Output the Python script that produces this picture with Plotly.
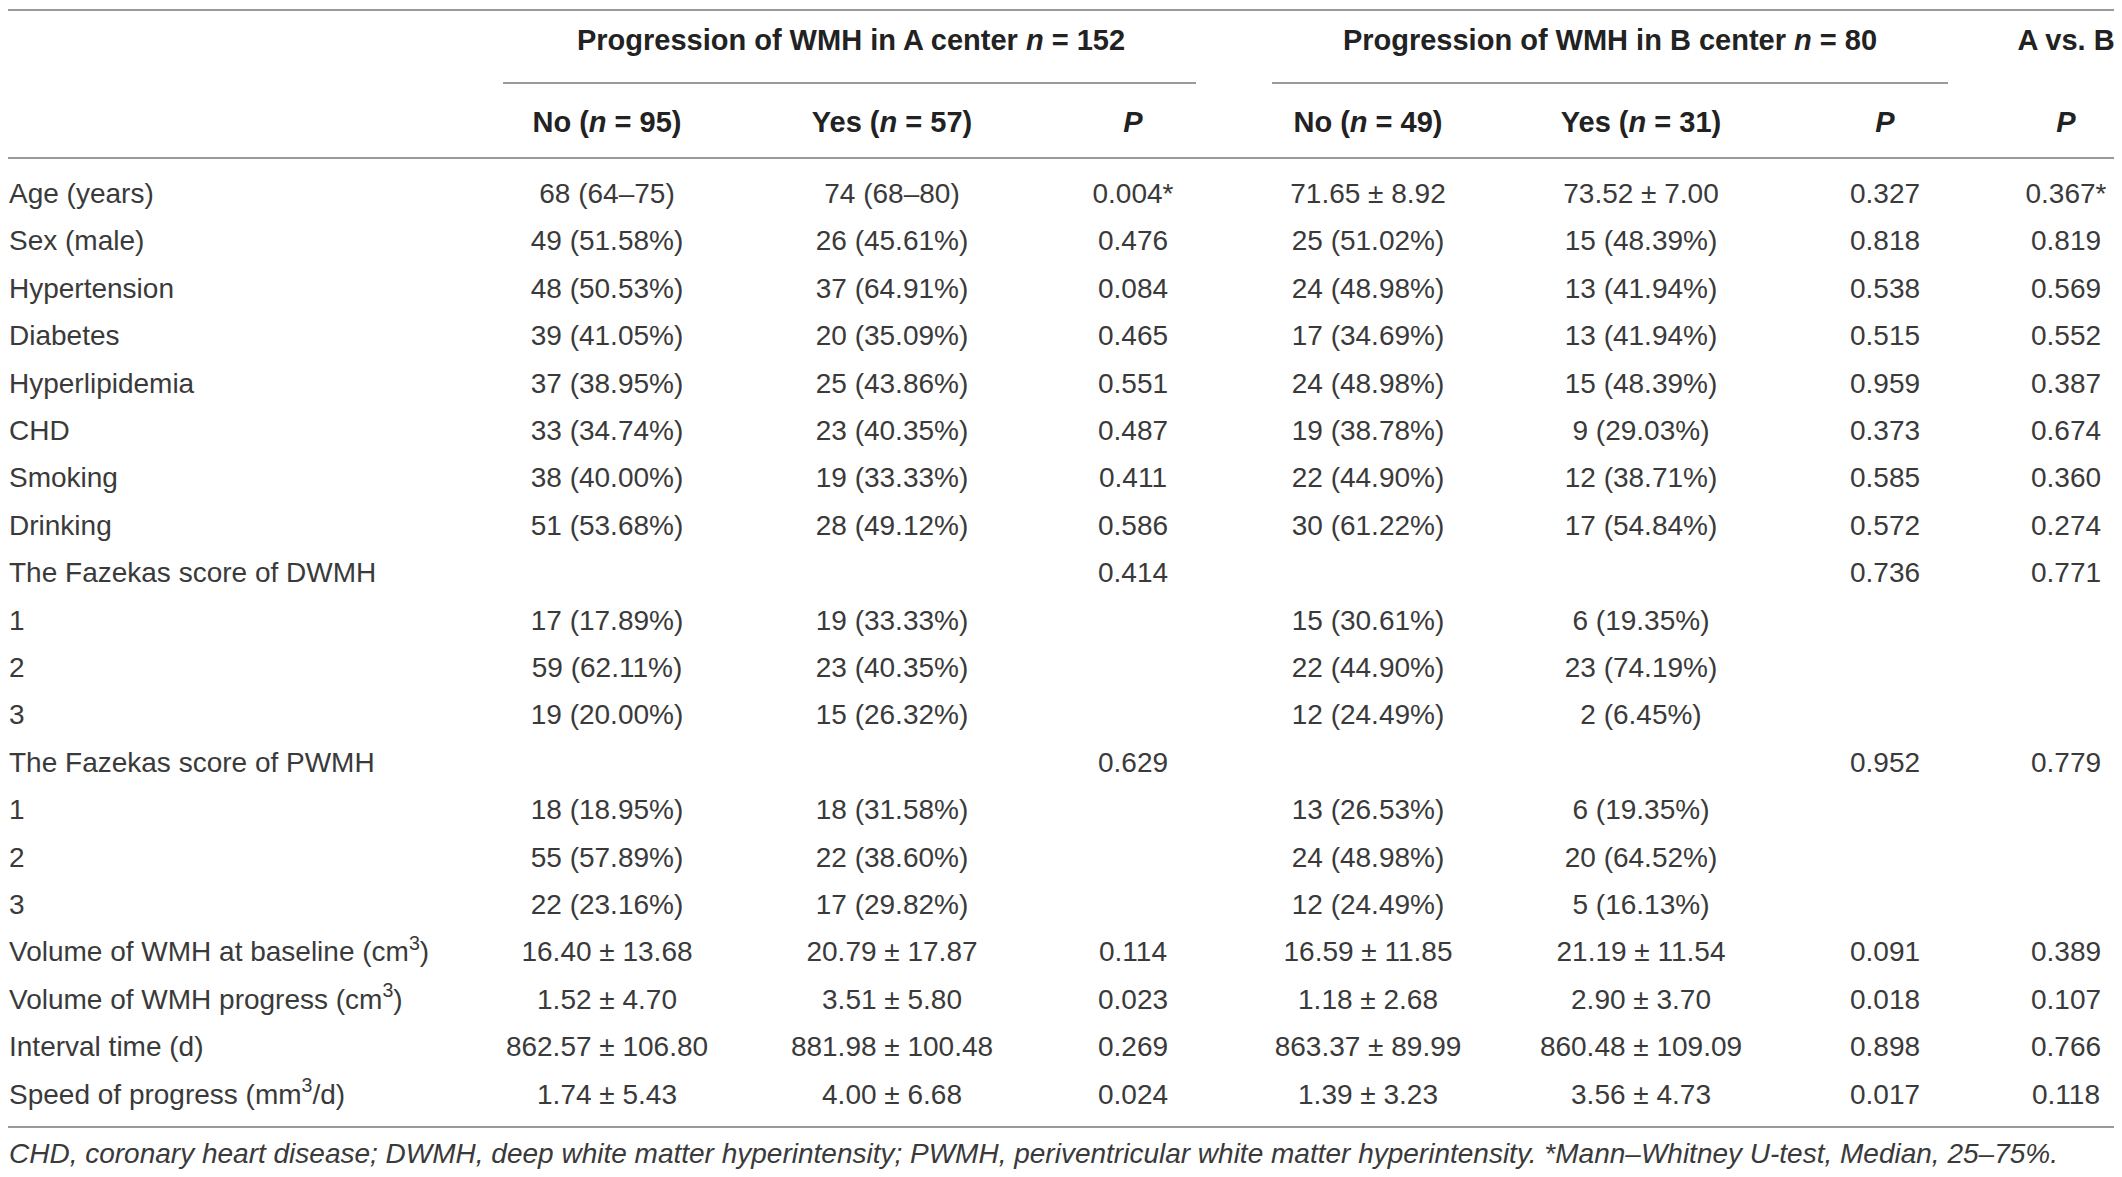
import plotly.graph_objects as go

labels = [
    "Age (years)", "Sex (male)", "Hypertension", "Diabetes", "Hyperlipidemia",
    "CHD", "Smoking", "Drinking", "The Fazekas score of DWMH", "1", "2", "3",
    "The Fazekas score of PWMH", "1", "2", "3",
    "Volume of WMH at baseline (cm<sup>3</sup>)",
    "Volume of WMH progress (cm<sup>3</sup>)",
    "Interval time (d)",
    "Speed of progress (mm<sup>3</sup>/d)",
]
a_no = [
    "68 (64–75)", "49 (51.58%)", "48 (50.53%)", "39 (41.05%)", "37 (38.95%)",
    "33 (34.74%)", "38 (40.00%)", "51 (53.68%)", "", "17 (17.89%)", "59 (62.11%)",
    "19 (20.00%)", "", "18 (18.95%)", "55 (57.89%)", "22 (23.16%)",
    "16.40 ± 13.68", "1.52 ± 4.70", "862.57 ± 106.80", "1.74 ± 5.43",
]
a_yes = [
    "74 (68–80)", "26 (45.61%)", "37 (64.91%)", "20 (35.09%)", "25 (43.86%)",
    "23 (40.35%)", "19 (33.33%)", "28 (49.12%)", "", "19 (33.33%)", "23 (40.35%)",
    "15 (26.32%)", "", "18 (31.58%)", "22 (38.60%)", "17 (29.82%)",
    "20.79 ± 17.87", "3.51 ± 5.80", "881.98 ± 100.48", "4.00 ± 6.68",
]
a_p = [
    "0.004*", "0.476", "0.084", "0.465", "0.551", "0.487", "0.411", "0.586",
    "0.414", "", "", "", "0.629", "", "", "",
    "0.114", "0.023", "0.269", "0.024",
]
b_no = [
    "71.65 ± 8.92", "25 (51.02%)", "24 (48.98%)", "17 (34.69%)", "24 (48.98%)",
    "19 (38.78%)", "22 (44.90%)", "30 (61.22%)", "", "15 (30.61%)", "22 (44.90%)",
    "12 (24.49%)", "", "13 (26.53%)", "24 (48.98%)", "12 (24.49%)",
    "16.59 ± 11.85", "1.18 ± 2.68", "863.37 ± 89.99", "1.39 ± 3.23",
]
b_yes = [
    "73.52 ± 7.00", "15 (48.39%)", "13 (41.94%)", "13 (41.94%)", "15 (48.39%)",
    "9 (29.03%)", "12 (38.71%)", "17 (54.84%)", "", "6 (19.35%)", "23 (74.19%)",
    "2 (6.45%)", "", "6 (19.35%)", "20 (64.52%)", "5 (16.13%)",
    "21.19 ± 11.54", "2.90 ± 3.70", "860.48 ± 109.09", "3.56 ± 4.73",
]
b_p = [
    "0.327", "0.818", "0.538", "0.515", "0.959", "0.373", "0.585", "0.572",
    "0.736", "", "", "", "0.952", "", "", "",
    "0.091", "0.018", "0.898", "0.017",
]
ab_p = [
    "0.367*", "0.819", "0.569", "0.552", "0.387", "0.674", "0.360", "0.274",
    "0.771", "", "", "", "0.779", "", "", "",
    "0.389", "0.107", "0.766", "0.118",
]

group_headers = [
    "<b>Progression of WMH in A center <i>n</i> = 152</b>",
    "<b>Progression of WMH in B center <i>n</i> = 80</b>",
    "<b>A vs. B</b>",
]
col_headers = [
    "<b>No (<i>n</i> = 95)</b>", "<b>Yes (<i>n</i> = 57)</b>", "<b><i>P</i></b>",
    "<b>No (<i>n</i> = 49)</b>", "<b>Yes (<i>n</i> = 31)</b>", "<b><i>P</i></b>",
    "<b><i>P</i></b>",
]
footnote = ("<i>CHD, coronary heart disease; DWMH, deep white matter hyperintensity; "
            "PWMH, periventricular white matter hyperintensity. "
            "*Mann–Whitney U-test, Median, 25–75%.</i>")

W, H = 2122, 1177
PAD = 8  # browser body margin, so axis units == page pixels
TXT = "#3a3a3a"
HDR = "#222222"
LINE = "#9a9a9a"
FONT = "Liberation Sans, Arial, sans-serif"
FS = 28
FS_HDR = 29

col_x = [607, 892, 1133, 1368, 1641, 1885, 2066]
row_y = [196 + 47.4 * i for i in range(len(labels))]


def text_trace(xs, ys, texts, pos, size, color):
    keep = [i for i, t in enumerate(texts) if t]
    return go.Scatter(
        x=[xs[i] for i in keep], y=[ys[i] for i in keep],
        text=[texts[i] for i in keep], mode="text", textposition=pos,
        textfont=dict(family=FONT, size=size, color=color),
        hoverinfo="skip", showlegend=False, cliponaxis=False,
    )


fig = go.Figure()

fig.add_trace(text_trace([9] * len(labels), row_y, labels, "middle right", FS, TXT))
for cx, col in zip(col_x, [a_no, a_yes, a_p, b_no, b_yes, b_p, ab_p]):
    fig.add_trace(text_trace([cx] * len(col), row_y, col, "middle center", FS, TXT))

# header rows
fig.add_trace(text_trace([851, 1610, 2066], [43, 43, 43], group_headers,
                         "middle center", FS_HDR, HDR))
fig.add_trace(text_trace(col_x, [125] * len(col_x), col_headers,
                         "middle center", FS_HDR, HDR))
fig.add_trace(text_trace([9], [1156], [footnote], "middle right", FS, TXT))

# rules
for x0, x1, y in [(PAD, W, 10), (503, 1196, 83), (1272, 1948, 83),
                  (PAD, W, 158), (PAD, W, 1127)]:
    fig.add_shape(type="line", x0=x0, x1=x1, y0=y, y1=y, xref="x", yref="y",
                  line=dict(color=LINE, width=2))

fig.update_layout(
    width=W - PAD, height=H - PAD, margin=dict(l=0, r=0, t=0, b=0),
    paper_bgcolor="white", plot_bgcolor="white",
    xaxis=dict(range=[PAD, W], visible=False, fixedrange=True),
    yaxis=dict(range=[H, PAD], visible=False, fixedrange=True),
)

fig.write_html("out.html")
